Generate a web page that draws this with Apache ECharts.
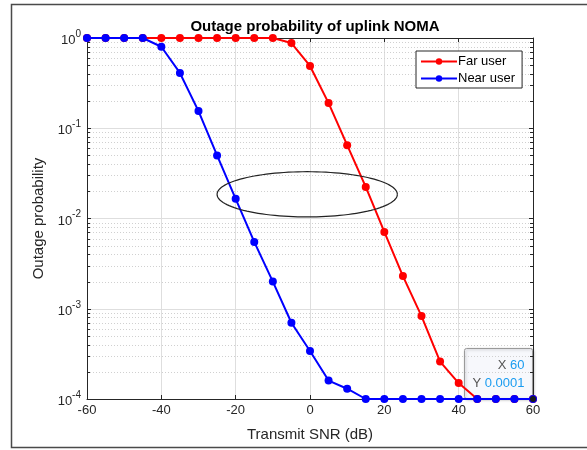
<!DOCTYPE html>
<html>
<head>
<meta charset="utf-8">
<script src="https://cdn.jsdelivr.net/npm/echarts@6/dist/echarts.min.js"></script>
<style>
  html, body { margin: 0; padding: 0; background: #fff; }
  #chart { width: 587px; height: 450px; }
</style>
</head>
<body>
<div id="chart"></div>
<script>
// 数据
var snr = [-60, -55, -50, -45, -40, -35, -30, -25, -20, -15, -10, -5, 0, 5, 10, 15, 20, 25, 30, 35, 40, 45, 50, 55, 60];
var farUser = [1, 1, 1, 1, 1, 1, 1, 1, 1, 1, 1, 0.88, 0.49, 0.19, 0.065, 0.0224, 0.0071, 0.0023, 0.00083, 0.00026, 0.00015, 0.0001, 0.0001, 0.0001, 0.0001];
var nearUser = [1, 1, 1, 1, 0.8, 0.41, 0.155, 0.05, 0.0165, 0.0055, 0.002, 0.0007, 0.00034, 0.00016, 0.00013, 0.0001, 0.0001, 0.0001, 0.0001, 0.0001, 0.0001, 0.0001, 0.0001, 0.0001, 0.0001];
var xTicks = [-60, -40, -20, 0, 20, 40, 60];
var yDecades = [0.0001, 0.001, 0.01, 0.1, 1];
// ellipse annotation bounds [xMin, xMax, yMin, yMax]
var ellipseBox = [[-25, 23.5, 0.0104, 0.033]];
var tipPoint = [60, 0.0001];

// minor log ticks 2..9 in each decade
var minorVals = [];
yDecades.slice(0, -1).forEach(function (d) {
  for (var k = 2; k <= 9; k++) minorVals.push(+(d * k).toPrecision(3));
});

function pairs(ys) {
  return snr.map(function (x, i) { return [x, ys[i]]; });
}

var axisColor = '#262626';
var font = 'Liberation Sans';
var myChart = echarts.init(document.getElementById('chart'));

var option = {
  animation: false,
  title: {
    text: 'Outage probability of uplink NOMA',
    left: 310,
    textAlign: 'center',
    top: 14,
    textStyle: { fontFamily: font, fontSize: 15, fontWeight: 'bold', color: '#000' }
  },
  legend: {
    orient: 'vertical',
    left: 416,
    top: 51,
    itemWidth: 36,
    itemHeight: 8,
    itemGap: 4,
    padding: [4, 7, 3, 4],
    borderColor: '#262626',
    borderWidth: 1,
    backgroundColor: '#fff',
    textStyle: { fontFamily: font, fontSize: 13, color: '#000', padding: [0, 0, 0, -4] },
    data: ['Far user', 'Near user']
  },
  grid: { left: 87, right: 54, top: 38, bottom: 51 },
  xAxis: [{
    type: 'value',
    min: -60, max: 60, interval: 20,
    name: 'Transmit SNR (dB)',
    nameLocation: 'middle',
    nameGap: 28,
    nameTextStyle: { fontFamily: font, fontSize: 15, color: axisColor },
    axisLine: { onZero: false, lineStyle: { color: axisColor, width: 1 } },
    axisTick: { inside: true, length: 4, lineStyle: { color: axisColor } },
    axisLabel: { fontFamily: font, fontSize: 13, color: axisColor, margin: 5,
      formatter: function (v) { return xTicks.indexOf(v) >= 0 ? String(v) : ''; } },
    splitLine: { show: true, lineStyle: { color: '#dedede', width: 1 } }
  }, {
    type: 'value', position: 'top',
    min: -60, max: 60, interval: 20,
    axisLine: { onZero: false, lineStyle: { color: axisColor } },
    axisTick: { inside: true, length: 4, lineStyle: { color: axisColor } },
    axisLabel: { show: false },
    splitLine: { show: false }
  }],
  yAxis: [{
    type: 'log',
    logBase: 10,
    min: 0.0001, max: 1,
    name: 'Outage probability',
    nameLocation: 'middle',
    nameGap: 35,
    nameTextStyle: { fontFamily: font, fontSize: 15, color: axisColor },
    axisLine: { show: true, onZero: false, lineStyle: { color: axisColor, width: 1 } },
    axisTick: { inside: true, length: 4, lineStyle: { color: axisColor } },
    axisLabel: {
      color: axisColor, margin: 6,
      formatter: function (v) {
        return '{b|10}{s|' + Math.round(Math.log10(v)) + '}';
      },
      rich: {
        b: { fontFamily: font, fontSize: 13, color: axisColor, verticalAlign: 'bottom' },
        s: { fontFamily: font, fontSize: 10, color: axisColor, verticalAlign: 'top', padding: [0, 0, 8, 0] }
      }
    },
    splitLine: { show: true, lineStyle: { color: '#dedede', width: 1 } }
  }, {
    type: 'log',
    logBase: 10,
    min: 0.0001, max: 1,
    position: 'right',
    axisLine: { show: true, onZero: false, lineStyle: { color: axisColor } },
    axisTick: { inside: true, length: 4, lineStyle: { color: axisColor } },
    axisLabel: { show: false },
    splitLine: { show: false }
  }],
  series: [
    {
      // minor grid (dotted) and minor ticks
      type: 'custom',
      silent: true,
      z: 1,
      data: minorVals.map(function (v) { return [v]; }),
      renderItem: function (params, api) {
        var pl = api.coord([-60, api.value(0)]);
        var pr = api.coord([60, api.value(0)]);
        var y = Math.round(pl[1]) + 0.5;
        return {
          type: 'group',
          children: [
            { type: 'line', shape: { x1: pl[0], y1: y, x2: pr[0], y2: y },
              style: { stroke: '#d0d0d0', lineWidth: 1, lineDash: [1, 2] } },
            { type: 'line', shape: { x1: pl[0], y1: y, x2: pl[0] + 3, y2: y },
              style: { stroke: axisColor, lineWidth: 1 } },
            { type: 'line', shape: { x1: pr[0] - 3, y1: y, x2: pr[0], y2: y },
              style: { stroke: axisColor, lineWidth: 1 } }
          ]
        };
      }
    },
    {
      name: 'Far user',
      type: 'line',
      data: pairs(farUser),
      color: '#ff0000',
      symbol: 'circle',
      symbolSize: 8,
      lineStyle: { width: 2, color: '#ff0000' },
      itemStyle: { color: '#ff0000' },
      z: 3
    },
    {
      name: 'Near user',
      type: 'line',
      data: pairs(nearUser),
      color: '#0000ff',
      symbol: 'circle',
      symbolSize: 8,
      lineStyle: { width: 2, color: '#0000ff' },
      itemStyle: { color: '#0000ff' },
      z: 4,
      markPoint: {
        symbol: 'circle',
        symbolSize: 6,
        itemStyle: { color: '#1a1a1a' },
        label: { show: false },
        data: [{ coord: tipPoint }]
      }
    },
    {
      // hand-drawn ellipse annotation
      type: 'custom',
      silent: true,
      z: 5,
      data: ellipseBox,
      renderItem: function (params, api) {
        var p1 = api.coord([api.value(0), api.value(2)]);
        var p2 = api.coord([api.value(1), api.value(3)]);
        var cx = (p1[0] + p2[0]) / 2, cy = (p1[1] + p2[1]) / 2;
        var rx = Math.abs(p2[0] - p1[0]) / 2, ry = Math.abs(p2[1] - p1[1]) / 2;
        var pts = [];
        for (var i = 0; i <= 120; i++) {
          var t = i / 120 * Math.PI * 2;
          pts.push([cx + rx * Math.cos(t), cy + ry * Math.sin(t)]);
        }
        return { type: 'polyline', shape: { points: pts }, style: { stroke: '#222', lineWidth: 1.2, fill: null } };
      }
    }
  ],
  graphic: [
    {
      // figure frame
      type: 'rect', z: 0, silent: true,
      shape: { x: 11.5, y: 4.5, width: 600, height: 443 },
      style: { fill: null, stroke: '#4a4a4a', lineWidth: 1.5 }
    },
    {
      // datatip
      type: 'group', left: 464, top: 348, z: 100,
      children: [
        { type: 'rect', shape: { x: 0, y: 0, width: 68, height: 50, r: 2 },
          style: { fill: '#f7f8fc', stroke: '#9a9a9a', lineWidth: 1,
            shadowBlur: 3, shadowColor: 'rgba(0,0,0,0.25)', shadowOffsetX: 1, shadowOffsetY: 1 } },
        { type: 'text', style: { x: 60, y: 17, text: '{k|X }{v|60}', align: 'right', verticalAlign: 'middle',
            rich: { k: { fontFamily: font, fontSize: 13, fill: '#555' },
                    v: { fontFamily: font, fontSize: 13, fill: '#1a9cf0' } } } },
        { type: 'text', style: { x: 60, y: 35, text: '{k|Y }{v|0.0001}', align: 'right', verticalAlign: 'middle',
            rich: { k: { fontFamily: font, fontSize: 13, fill: '#555' },
                    v: { fontFamily: font, fontSize: 13, fill: '#1a9cf0' } } } }
      ]
    }
  ]
};

myChart.setOption(option);
</script>
</body>
</html>
